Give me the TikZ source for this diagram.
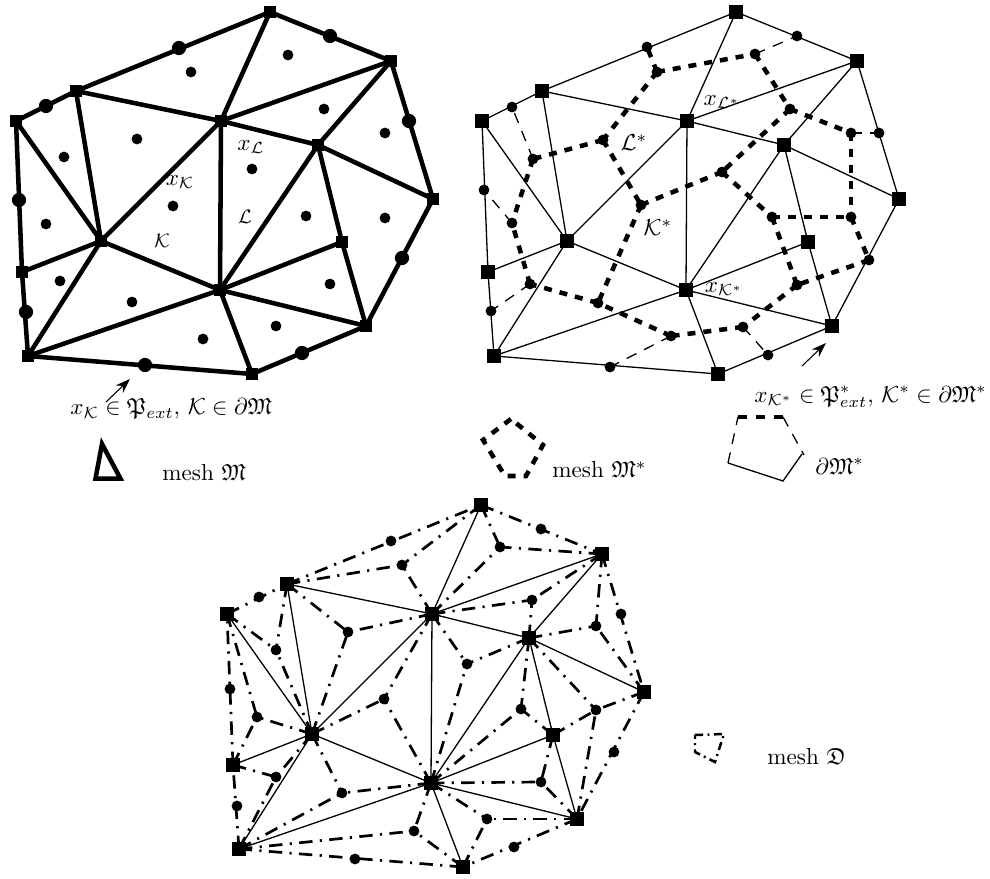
\documentclass[tikz,border=0pt]{standalone}
\usepackage{amssymb}
\usetikzlibrary{arrows.meta}
\newcommand{\vertlist}{A/270/12,B/391/61,C/76/91,D/16/121,E/221/121,F/318/145,G/433/199,H/101/241,I/342/242,J/22/272,K/220/290,L/366/326,M/28/356,N/252/374}
\newcommand{\cellsleft}{c1/191/72,c2/288/55,c3/324/109,c4/385/133,c5/137/139,c6/64/157,c7/173/206,c8/252/169,c9/46/224,c10/306/216,c11/385/218,c12/330/284,c13/60/281,c14/132/302,c15/203/339,c16/276/326}
\newcommand{\midsleft}{m1/179/48,m2/330/36,m3/409/121,m4/402/258,m5/302/353,m6/145/365,m7/26/312,m8/19/200,m9/46/106}
\newcommand{\dotsright}{c1/191/72,c2/289/54,c3/324/109,c4/385/133,c5/137/140,c6/67/159,c7/175/205,c8/256/172,c9/46/223,c10/306/217,c11/385/217,c12/331/285,c13/64/284,c14/132/303,c15/205/336,c16/277/327,m1/181/47,m2/331/36,m3/413/133,m4/403/260,m5/302/355,m6/144/367,m7/25/311,m8/18/190,m9/46/107}
\newcommand{\dotsbottom}{c1/191/72,c2/289/54,c3/321/107,c4/385/133,c5/137/139,c6/65/157,c7/173/206,c8/256/171,c9/46/224,c10/310/216,c11/385/217,c12/330/289,c13/65/284,c14/131/300,c15/203/338,c16/276/326,m1/180/48,m2/330/36,m3/410/121,m4/403/259,m5/303/354,m6/144/366,m7/26/313,m8/19/196,m9/48/104}
\newcommand{\inneredges}{A/E,B/E,C/E,E/F,E/H,E/K,B/F,F/G,F/I,F/K,C/H,D/H,H/J,H/K,H/M,I/K,I/L,K/L,K/M,K/N}
\newcommand{\outeredges}{D/C,C/A,A/B,B/G,G/L,L/N,N/M,M/J,J/D}
\tikzset{
  vert/.style={rectangle, fill=black, minimum size=6.3pt, inner sep=0pt},
  vertl/.style={vert, minimum size=5.9pt},
  dot/.style={circle, fill=black, minimum size=5pt, inner sep=0pt},
  bigdot/.style={dot, minimum size=6.6pt},
  heavy/.style={line width=2.1pt, line cap=round},
  fine/.style={line width=0.6pt},
  dualthick/.style={line width=2.1pt, dash pattern=on 3.7pt off 3.7pt},
  dualthin/.style={line width=0.6pt, dash pattern=on 5pt off 4pt},
  diam/.style={line width=1.25pt, dash pattern=on 6.2pt off 3.4pt on 1pt off 3.4pt},
  ptr/.style={-{Stealth[length=2.4mm,width=1.7mm]}, line width=0.5pt},
  lbl/.style={inner sep=0pt, scale=1.07},
  lbls/.style={inner sep=0pt, font=\small},
}
\begin{document}
\begin{tikzpicture}[x=0.463pt,y=-0.463pt]
  \useasboundingbox (0,0) rectangle (990,879);
  \begin{scope}[name prefix=p-]
    \foreach \n/\x/\y in \vertlist \node[vertl] (\n) at (\x,\y) {};
    \foreach \n/\x/\y in \cellsleft \node[dot] (\n) at (\x,\y) {};
    \foreach \n/\x/\y in \midsleft \node[bigdot] (\n) at (\x,\y) {};
    \foreach \a/\b in \inneredges \draw[heavy] (\a.center) -- (\b.center);
    \foreach \a/\b in \outeredges \draw[heavy] (\a.center) -- (\b.center);
    \node[lbl] (xk) at (180,182) {$x_{\mathcal{K}}$};
    \node[lbls] (kk) at (162,241) {$\mathcal{K}$};
    \node[lbl] (xl) at (251,147) {$x_{\mathcal{L}}$};
    \node[lbls] (ll) at (245,217) {$\mathcal{L}$};
  \end{scope}
  \begin{scope}[shift={(466,0)},name prefix=d-]
    \foreach \n/\x/\y in \vertlist \node[vert] (\n) at (\x,\y) {};
    \foreach \n/\x/\y in \dotsright \node[dot] (\n) at (\x,\y) {};
    \foreach \a/\b in \inneredges \draw[fine] (\a.center) -- (\b.center);
    \foreach \a/\b in \outeredges \draw[fine] (\a.center) -- (\b.center);
    \foreach \a/\b in {c1/m1,c1/c2,c1/c5,c2/c3,c3/c4,c3/c8,c4/c11,c5/c6,c5/c7,c6/c9,c7/c8,c7/c14,c8/c10,c10/c11,c10/c12,c11/m4,m4/c12,c12/c16,c16/c15,c15/c14,c14/c13,c13/c9}
      \draw[dualthick] (\a.center) -- (\b.center);
    \foreach \a/\b in {c9/m8,c13/m7,c6/m9,c2/m2,c4/m3,c15/m6,c16/m5}
      \draw[dualthin] (\a.center) -- (\b.center);
    \node[lbl] (xl) at (256,102) {$x_{\mathcal{L}^*}$};
    \node[lbl] (ll) at (168,143) {$\mathcal{L}^*$};
    \node[lbl] (kk) at (192,228) {$\mathcal{K}^*$};
    \node[lbl] (xk) at (258,289) {$x_{\mathcal{K}^*}$};
  \end{scope}
  \begin{scope}[shift={(211,493)},name prefix=b-]
    \foreach \n/\x/\y in \vertlist \node[vert] (\n) at (\x,\y) {};
    \foreach \n/\x/\y in \dotsbottom \node[dot] (\n) at (\x,\y) {};
    \foreach \a/\b in \inneredges \draw[fine] (\a.center) -- (\b.center);
    \foreach \a/\b in \outeredges \draw[diam] (\a.center) -- (\b.center);
    \foreach \c/\vs in {c1/{C,A,E},c2/{A,B,E},c3/{B,E,F},c4/{B,F,G},c5/{C,E,H},c6/{D,C,H},c7/{E,H,K},c8/{E,F,K},c9/{D,H,J},c10/{F,I,K},c11/{F,G,I,L},c12/{I,K,L},c13/{J,H,M},c14/{H,K,M},c15/{K,M,N},c16/{K,L,N}}
      \foreach \v in \vs \draw[diam] (\v.center) -- (\c.center);
  \end{scope}
  \coordinate (ptra0) at (106,402);
  \coordinate (ptra1) at (130,379);
  \draw[ptr] (ptra0) -- (ptra1);
  \coordinate (ptrb0) at (802,366);
  \coordinate (ptrb1) at (826,343);
  \draw[ptr] (ptrb0) -- (ptrb1);
  \node[lbl, anchor=west] (extp) at (70,409) {$x_{\mathcal{K}}\in\mathfrak{P}_{ext},\, \mathcal{K}\in\partial\mathfrak{M}$};
  \node[lbl, anchor=west] (extd) at (754,397) {$x_{\mathcal{K}^*}\in\mathfrak{P}^*_{ext},\, \mathcal{K}^*\in\partial\mathfrak{M}^*$};
  \draw[line width=2.1pt] (102,444) -- (95.5,478.7) -- (120.5,478.7) -- cycle;
  \node[lbl, anchor=west] (meshp) at (162,473) {mesh $\mathfrak{M}$};
  \draw[dualthick] (511,419) -- (483,440) -- (505,476) -- (526,476) -- (543,445) -- cycle;
  \node[lbl, anchor=west] (meshd) at (552,470) {mesh $\mathfrak{M}^*$};
  \draw[dualthick, dash pattern=on 4pt off 4.4pt] (738,417) -- (783,417);
  \draw[dualthin] (783,417) -- (804,455);
  \draw[fine] (802,454) -- (783,481) -- (728,463);
  \draw[dualthin] (728,463) -- (738,417);
  \node[lbl, anchor=west] (bnd) at (815,466) {$\partial\mathfrak{M}^*$};
  \draw[line width=1.15pt, dash pattern=on 3.8pt off 2pt on 0.9pt off 2pt] (695,735) -- (724,734) -- (715,762) -- (695,752) -- cycle;
  \node[lbl, anchor=west] (meshe) at (767,757) {mesh $\mathfrak{D}$};
\end{tikzpicture}
\end{document}
